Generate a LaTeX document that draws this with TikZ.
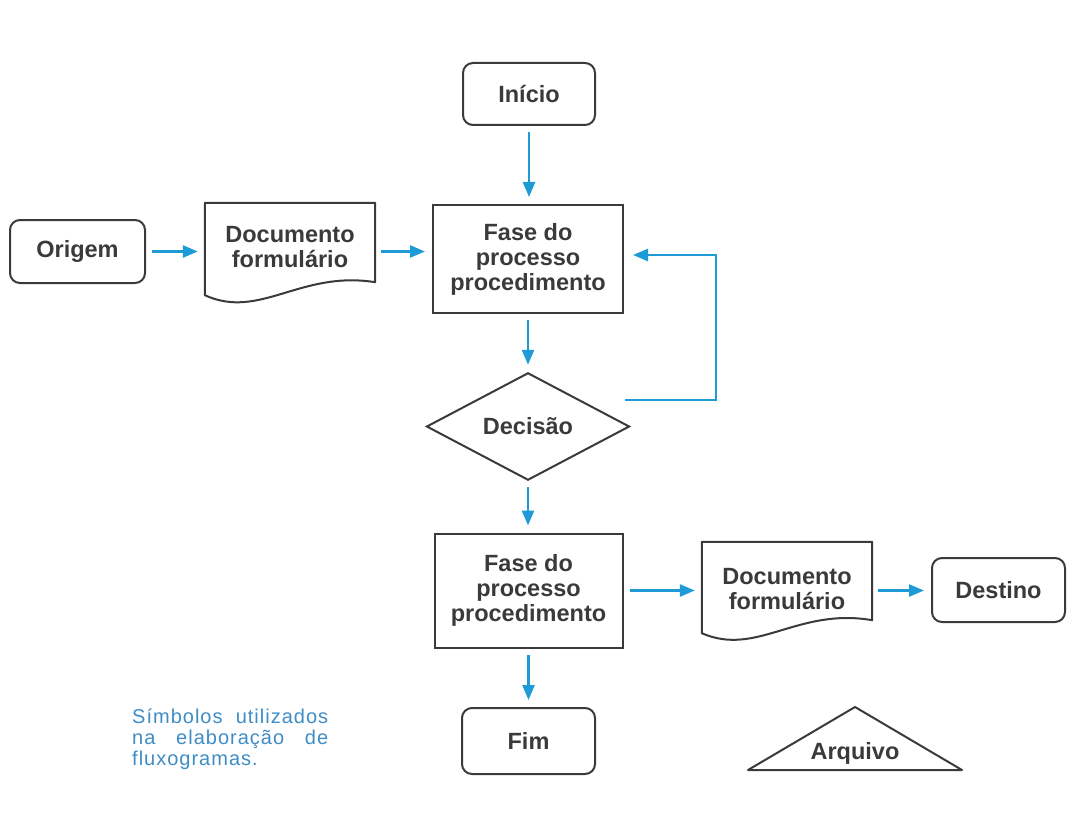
\documentclass[tikz,border=0pt]{standalone}
\usepackage{fontspec}
\setmainfont{Liberation Sans}
\newfontfamily\captionfont[LetterSpace=5]{Liberation Sans}
\usetikzlibrary{arrows.meta,shapes.geometric,calc}
\definecolor{flowblue}{HTML}{1E9BD7}
\definecolor{ink}{HTML}{3A3A3A}
\definecolor{captionblue}{HTML}{3F8DC6}

\begin{document}
\begin{tikzpicture}[x=1pt,y=-1pt,
  boxfont/.style={font=\fontsize{23.5}{25}\selectfont\bfseries, text=ink},
  procbox/.style={draw=ink, line width=2pt, boxfont, align=center, inner sep=0pt},
  termbox/.style={procbox, rounded corners=10pt},
  docbox/.style={boxfont, align=center, inner sep=0pt, minimum width=170pt},
  outline/.style={draw=ink, line width=2pt, line join=round},
  flow/.style={draw=flowblue, line width=2.6pt, -{Triangle[length=15pt,width=12pt]},
               shorten <=6pt, shorten >=7pt},
  captionline/.style={anchor=base west, inner sep=0pt, text=captionblue,
               font=\captionfont\fontsize{20}{21}\selectfont},
]
\useasboundingbox (0,0) rectangle (1067,837);

% main column
\node[termbox, minimum width=132pt, minimum height=62pt] (inicio) at (529,94) {Início};
\node[procbox, minimum width=190pt, minimum height=108pt] (fase1) at (528,259)
  {Fase do\\processo\\procedimento};
\node[shape=diamond, draw=ink, line width=2pt, boxfont, inner sep=0pt,
      minimum width=203pt, minimum height=93pt] (decisao) at (528,426.5) {Decisão};
\node[procbox, minimum width=188pt, minimum height=114pt] (fase2) at (528.5,590.5)
  {Fase do\\processo\\procedimento};
\node[termbox, minimum width=133pt, minimum height=66pt] (fim) at (528.5,741) {Fim};

% upper row
\node[termbox, minimum width=135pt, minimum height=63pt] (origem) at (77.5,251.5) {Origem};
\node[docbox, minimum height=88pt] (doc1) at (290,247) {Documento\\formulário};

% lower row
\node[docbox, minimum height=94pt] (doc2) at (787,589) {Documento\\formulário};
\node[termbox, minimum width=133pt, minimum height=64pt] (destino) at (998.5,590) {Destino};
\node[boxfont] (arquivo) at (855,753) {Arquivo};

% document outlines with wavy bottom edge
\draw[outline] (doc1.north west) -- (doc1.north east)
  -- ([shift={(0,-9)}]doc1.south east)
  .. controls ([shift={(-75,-21)}]doc1.south east) and ([shift={(55,29)}]doc1.south west)
  .. ([shift={(0,4)}]doc1.south west) -- cycle;
\draw[outline] (doc2.north west) -- (doc2.north east)
  -- ([shift={(0,-16)}]doc2.south east)
  .. controls ([shift={(-75,-29)}]doc2.south east) and ([shift={(55,21)}]doc2.south west)
  .. ([shift={(0,-3)}]doc2.south west) -- cycle;

% archive triangle
\draw[outline] ([shift={(0,-46)}]arquivo.center) -- ([shift={(107,17)}]arquivo.center)
  -- ([shift={(-107,17)}]arquivo.center) -- cycle;

% connectors
\draw[flow] (inicio.south) -- (inicio.south |- fase1.north);
\draw[flow] (fase1.south) -- (decisao.north);
\draw[flow] (decisao.south) -- (decisao.south |- fase2.north);
\draw[flow] (fase2.south) -- (fase2.south |- fim.north);
\draw[flow] (origem.east) -- (origem.east -| doc1.west);
\draw[flow] (doc1.east |- origem.east) -- (fase1.west |- origem.east);
\draw[flow] (fase2.east) -- (fase2.east -| doc2.west);
\draw[flow] (doc2.east |- fase2.east) -- (destino.west |- fase2.east);

% return loop from the decision
\coordinate (loopstart) at (625,400);
\coordinate (loopturn) at (716,255);
\draw[flow, shorten <=0pt, shorten >=9pt] (loopstart) -- (loopstart -| loopturn)
  -- (loopturn) -- (loopturn -| fase1.east);

% caption
\node[captionline] (cap1) at (132,723) {\makebox[196pt][s]{Símbolos utilizados}};
\node[captionline] (cap2) at (132,744) {\makebox[196pt][s]{na elaboração de}};
\node[captionline] (cap3) at (132,765) {fluxogramas.};
\end{tikzpicture}
\end{document}
